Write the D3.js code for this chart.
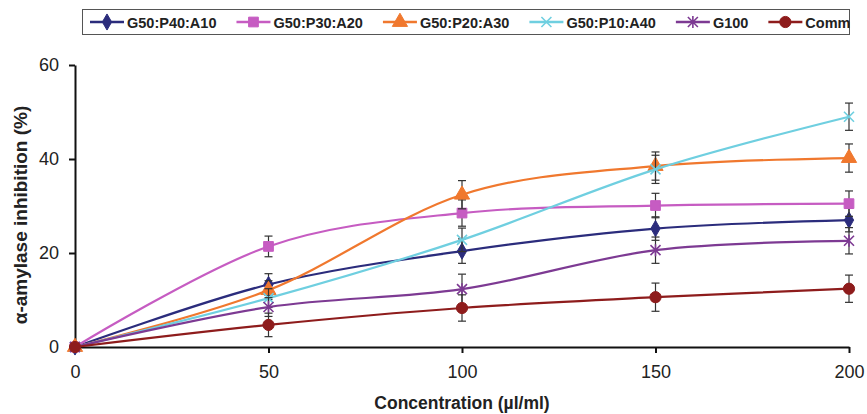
<!DOCTYPE html>
<html>
<head>
<meta charset="utf-8">
<script src="https://cdn.jsdelivr.net/npm/d3@7"></script>
<style>
  html, body { margin: 0; padding: 0; background: #fff; }
  svg { display: block; font-family: "Liberation Sans", Arial, sans-serif; }
</style>
</head>
<body>
<svg id="chart" width="867" height="414"></svg>
<script>
// ---- data ----
const concentrations = [0, 50, 100, 150, 200];
const seriesNames = ["G50:P40:A10", "G50:P30:A20", "G50:P20:A30", "G50:P10:A40", "G100", "Comm"];
const g50p40a10 = [0, 13.3, 20.4, 25.2, 27.0];
const g50p30a20 = [0, 21.4, 28.5, 30.1, 30.5];
const g50p20a30 = [0, 12.1, 32.4, 38.5, 40.2];
const g50p10a40 = [0, 10.4, 22.8, 37.8, 49.0];
const g100      = [0, 8.5, 12.3, 20.6, 22.6];
const comm      = [0, 4.7, 8.3, 10.6, 12.4];
const errG50P40A10 = [0, 2.3, 2.6, 2.5, 2.5];
const errG50P30A20 = [0, 2.2, 2.8, 2.6, 2.7];
const errG50P20A30 = [0, 2.0, 3.0, 3.0, 3.0];
const errG50P10A40 = [0, 2.0, 2.5, 3.0, 2.9];
const errG100      = [0, 2.0, 3.2, 2.8, 2.8];
const errComm      = [0, 2.5, 2.8, 3.0, 2.9];
const yTicks = [0, 20, 40, 60];
const xTicks = [0, 50, 100, 150, 200];
const xTitle = "Concentration (µl/ml)";
const yTitle = "α-amylase inhibition (%)";

const seriesValues = [g50p40a10, g50p30a20, g50p20a30, g50p10a40, g100, comm];
const seriesErrors = [errG50P40A10, errG50P30A20, errG50P20A30, errG50P10A40, errG100, errComm];
const colors = ["#2b2c7c", "#c65cc2", "#f0782e", "#6fcfe0", "#7d3a93", "#8e1c1c"];
const markers = ["diamond", "square", "triangle", "x", "star", "circle"];

const series = seriesNames.map((name, i) => ({
  name, color: colors[i], marker: markers[i],
  points: concentrations.map((c, j) => ({ x: c, y: seriesValues[i][j], e: seriesErrors[i][j] }))
}));

// ---- layout ----
const svg = d3.select("#chart");
const x = d3.scaleLinear().domain([0, 200]).range([75, 849]);
const y = d3.scaleLinear().domain([0, 60]).range([347, 65]);

function drawMarker(g, type, color) {
  if (type === "diamond") {
    g.append("path").attr("d", d3.symbol(d3.symbolDiamond, 75)()).attr("fill", color).attr("stroke", color);
  } else if (type === "square") {
    g.append("path").attr("d", d3.symbol(d3.symbolSquare, 95)()).attr("fill", color).attr("stroke", color);
  } else if (type === "triangle") {
    g.append("path").attr("d", d3.symbol(d3.symbolTriangle, 100)()).attr("fill", color).attr("stroke", color);
  } else if (type === "circle") {
    g.append("circle").attr("r", 5.6).attr("fill", color).attr("stroke", color);
  } else if (type === "x") {
    g.append("path").attr("d", "M-5,-5L5,5M-5,5L5,-5").attr("stroke", color).attr("stroke-width", 1.6).attr("fill", "none");
  } else if (type === "star") {
    g.append("path").attr("d", "M-5,-5L5,5M-5,5L5,-5M0,-6L0,6").attr("stroke", color).attr("stroke-width", 1.6).attr("fill", "none");
  }
}

// ---- axes ----
const yAxis = d3.axisLeft(y).tickValues(yTicks).tickSize(6).tickSizeOuter(0).tickPadding(10);
const xAxis = d3.axisBottom(x).tickValues(xTicks).tickSize(6).tickSizeOuter(0).tickPadding(12);

const gy = svg.append("g").attr("transform", `translate(${x(0)},0)`).call(yAxis);
const gx = svg.append("g").attr("transform", `translate(0,${y(0)})`).call(xAxis);
[gx, gy].forEach(g => {
  g.select(".domain").attr("stroke", "#111").attr("stroke-width", 2);
  g.selectAll(".tick line").attr("stroke", "#111").attr("stroke-width", 2);
  g.selectAll(".tick text").attr("font-size", 18).attr("fill", "#222")
    .attr("font-family", "'Liberation Sans', Arial, sans-serif");
});

svg.append("text").attr("x", x(100)).attr("y", 409).attr("text-anchor", "middle")
  .attr("font-size", 17.5).attr("font-weight", "bold").attr("fill", "#222").text(xTitle);
svg.append("text").attr("transform", `translate(27,${(y(0) + y(60)) / 2 + 9}) rotate(-90)`)
  .attr("text-anchor", "middle").attr("font-size", 19).attr("font-weight", "bold").attr("fill", "#222").text(yTitle);

// ---- series ----
const line = d3.line().x(d => x(d.x)).y(d => y(d.y)).curve(d3.curveCatmullRom.alpha(0));
const plot = svg.append("g");
series.forEach(s => {
  const g = plot.append("g");
  g.append("path").datum(s.points).attr("d", line).attr("fill", "none")
    .attr("stroke", s.color).attr("stroke-width", 2.2);
  const eb = g.selectAll(".eb").data(s.points.filter(p => p.e > 0)).join("g");
  eb.append("line").attr("x1", d => x(d.x)).attr("x2", d => x(d.x))
    .attr("y1", d => y(d.y + d.e)).attr("y2", d => y(d.y - d.e)).attr("stroke", "#333").attr("stroke-width", 1.2);
  eb.append("line").attr("x1", d => x(d.x) - 4).attr("x2", d => x(d.x) + 4)
    .attr("y1", d => y(d.y + d.e)).attr("y2", d => y(d.y + d.e)).attr("stroke", "#333").attr("stroke-width", 1.2);
  eb.append("line").attr("x1", d => x(d.x) - 4).attr("x2", d => x(d.x) + 4)
    .attr("y1", d => y(d.y - d.e)).attr("y2", d => y(d.y - d.e)).attr("stroke", "#333").attr("stroke-width", 1.2);
  s.points.forEach(p => {
    const m = g.append("g").attr("transform", `translate(${x(p.x)},${y(p.y)})`);
    drawMarker(m, s.marker, s.color);
  });
});

// ---- legend ----
const legend = svg.append("g");
legend.append("rect").attr("x", 82.5).attr("y", 9.5).attr("width", 767).attr("height", 25)
  .attr("fill", "#fff").attr("stroke", "#555").attr("stroke-width", 1);
let lx = 90;
const ly = 22;
series.forEach(s => {
  const it = legend.append("g");
  it.append("line").attr("x1", lx).attr("x2", lx + 34).attr("y1", ly).attr("y2", ly)
    .attr("stroke", s.color).attr("stroke-width", 2.5);
  const m = it.append("g").attr("transform", `translate(${lx + 17},${ly})`);
  drawMarker(m, s.marker, s.color);
  const t = it.append("text").attr("x", lx + 37).attr("y", ly + 5.5).attr("font-size", 14.5)
    .attr("font-weight", "bold").attr("fill", "#222").text(s.name);
  lx = lx + 37 + t.node().getComputedTextLength() + 20;
});
</script>
</body>
</html>
